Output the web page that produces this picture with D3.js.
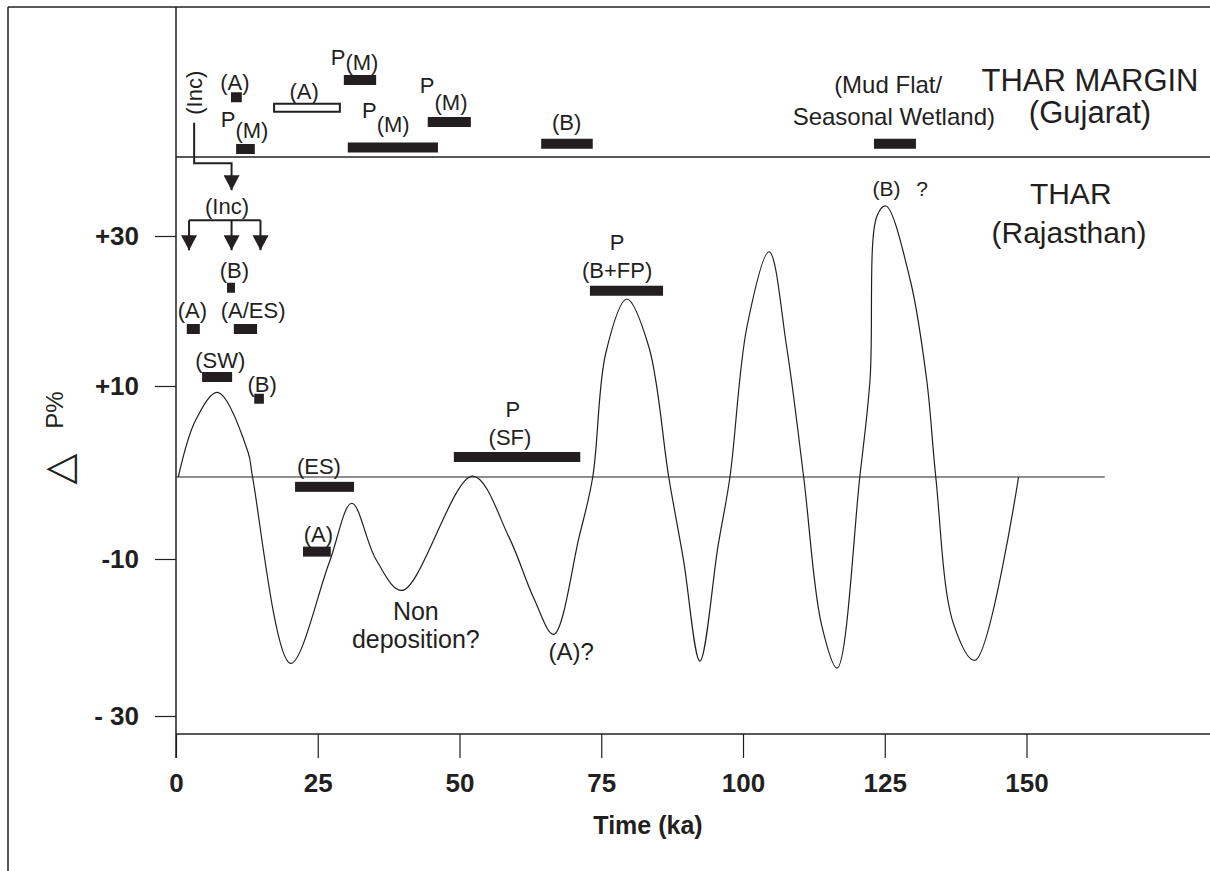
<!DOCTYPE html>
<html>
<head>
<meta charset="utf-8">
<script src="https://cdn.jsdelivr.net/npm/d3@7"></script>
<style>
  html, body { margin: 0; padding: 0; background: #fff; }
  svg { display: block; }
  text { font-family: "Liberation Sans", Arial, Helvetica, sans-serif; fill: #231f20; }
</style>
</head>
<body>
<svg id="chart" width="1210" height="871"></svg>
<script>
// ---------------- DATA ----------------
const timeTicks = [0, 25, 50, 75, 100, 125, 150];
const pTicks = [30, 10, -10, -30];
const pTickLabels = ["+30", "+10", "-10", "- 30"];

// Precipitation anomaly curve (Time ka, delta P %)
const curveTime = [0.4, 3.5, 7.35, 12.7, 13.5, 20.2, 27.0, 31.0, 35.3, 39.9, 52.3, 58.7, 63.1, 66.6, 71.1, 73.5,
  75.8, 79.5, 83.4, 86.9, 89.5, 92.4, 95.6, 97.7, 100.7, 104.6, 107.7, 110.7, 113.8, 116.6, 120.6, 122.4,
  123.6, 125.2, 129.5, 132.4, 134.0, 137.1, 140.9, 148.6];
const curveP = [0, 6.3, 9.3, 2.75, 0, -23.3, -10.5, -3.2, -10.1, -14.0, 0.1, -7.3, -15.0, -19.6, -7.3, 0,
  14.4, 21.6, 15.2, 0, -10.1, -23.0, -8.4, 0, 17.9, 27.9, 15.2, 0, -18.2, -23.9, 0, 10.8,
  32.6, 34.0, 24.1, 10.8, 0, -18.2, -22.9, 0];

// Deposit bars: [start ka, end ka, level]
const marginBars = [[9.7, 11.6, 48.5], [10.6, 13.9, 41.6], [29.6, 35.3, 50.8], [30.3, 46.2, 41.8],
  [44.4, 52.0, 45.2], [64.4, 73.5, 42.3], [123.1, 130.5, 42.3]];
const marginOpenBars = [[17.3, 28.9, 47.1]];
const tharBars = [[9.0, 10.4, 23.1], [1.9, 4.2, 17.6], [10.2, 14.3, 17.6], [4.6, 9.9, 11.2],
  [13.8, 15.5, 8.6], [21.0, 31.4, -1.2], [22.4, 27.3, -9.1], [49.0, 71.3, 2.2], [73.0, 85.9, 22.7]];

// Labels: [text, time ka, level, font size]
const marginLabels = [["(A)", 10.4, 49.5, 22], ["(A)", 22.6, 48.3, 22], ["(B)", 68.9, 44.1, 22],
  ["(Mud Flat/", 125.6, 49.1, 24], ["Seasonal Wetland)", 126.6, 44.8, 24],
  ["THAR MARGIN", 161.2, 49.3, 31], ["(Gujarat)", 161.2, 45.1, 31]];
// P(M) labels: [start ka, level of P baseline, (M) shift x px, (M) shift y px]
const pmLabels = [[7.9, 44.5, 0, 11], [27.3, 52.8, 0, 5], [32.8, 45.7, 0, 14], [43.0, 49.1, 0, 17]];
const tharLabels = [["(Inc)", 9.0, 32.9, 22], ["(B)", 10.3, 24.4, 22], ["(A)", 2.9, 19.1, 22],
  ["(A/ES)", 13.6, 19.1, 22], ["(SW)", 7.8, 12.4, 22], ["(B)", 15.2, 9.3, 22],
  ["(ES)", 25.2, 0.33, 22], ["(A)", 25.1, -7.9, 22], ["P", 59.4, 6.6, 22], ["(SF)", 58.9, 3.5, 22],
  ["Non", 42.3, -17.8, 25], ["deposition?", 42.3, -21.3, 25], ["(A)?", 69.7, -22.9, 24],
  ["P", 77.8, 28.1, 22], ["(B+FP)", 77.8, 24.4, 22], ["(B)", 125.3, 35.3, 21], ["?", 131.6, 35.3, 21],
  ["THAR", 157.8, 34.3, 30], ["(Rajasthan)", 157.5, 29.1, 30]];
const incLabel = ["(Inc)", 3.35, 49.1, 22];

// Incision arrows: polylines [time, level]
const incConnector = [[3.2, 45.1], [3.2, 39.7], [9.8, 39.7], [9.8, 36.1]];
const incBracket = [[2.3, 32.1], [14.9, 32.1]];
const incArrows = [[2.3, 32.1, 28.1], [9.8, 32.1, 28.1], [14.9, 32.1, 28.1]];

// ---------------- CHART ----------------
const W = 1210, H = 871;
const ink = "#231f20";
const svg = d3.select("#chart");

const x = d3.scaleLinear().domain([0, 150]).range([176, 1026.5]);
const y = d3.scaleLinear().domain([-30, -10, 0, 10, 30]).range([716, 559, 477, 386, 236]);

const defs = svg.append("defs");
defs.append("marker").attr("id", "arrow")
  .attr("viewBox", "0 0 15 16").attr("refX", 15).attr("refY", 8)
  .attr("markerWidth", 15).attr("markerHeight", 16)
  .attr("markerUnits", "userSpaceOnUse").attr("orient", "auto")
  .append("path").attr("d", "M0,0 L15,8 L0,16 Z").attr("fill", ink);

// frame
svg.append("line").attr("x1", 8).attr("x2", W).attr("y1", 7).attr("y2", 7)
  .attr("stroke", ink).attr("stroke-width", 1.5);
svg.append("line").attr("x1", 8).attr("x2", 8).attr("y1", 7).attr("y2", H)
  .attr("stroke", ink).attr("stroke-width", 1.5);

// panel divider
svg.append("line").attr("x1", x(0)).attr("x2", W).attr("y1", 157).attr("y2", 157)
  .attr("stroke", ink).attr("stroke-width", 1.5);

// zero line
svg.append("line").attr("x1", x(0)).attr("x2", x(163.8)).attr("y1", y(0)).attr("y2", y(0))
  .attr("stroke", ink).attr("stroke-width", 1.2);

// y axis
const yAxis = d3.axisLeft(y).tickValues(pTicks).tickSize(21).tickPadding(16)
  .tickFormat((d, i) => pTickLabels[i]);
const gy = svg.append("g").attr("transform", `translate(${x(0)},0)`).call(yAxis);
gy.select(".domain").remove();
gy.selectAll(".tick line").attr("stroke", ink).attr("stroke-width", 1.2);
gy.selectAll(".tick text").style("font-size", "26px").style("font-weight", "bold").attr("fill", ink);
svg.append("line").attr("x1", x(0)).attr("x2", x(0)).attr("y1", 7).attr("y2", 758)
  .attr("stroke", ink).attr("stroke-width", 1.5);

// x axis
const xAxis = d3.axisBottom(x).tickValues(timeTicks).tickSize(24).tickPadding(16)
  .tickFormat(d3.format("d"));
const gx = svg.append("g").attr("transform", "translate(0,734)").call(xAxis);
gx.select(".domain").remove();
gx.selectAll(".tick line").attr("stroke", ink).attr("stroke-width", 1.2);
gx.selectAll(".tick text").style("font-size", "26px").style("font-weight", "bold").attr("fill", ink);
svg.append("line").attr("x1", x(0)).attr("x2", W).attr("y1", 734).attr("y2", 734)
  .attr("stroke", ink).attr("stroke-width", 1.5);

svg.append("text").attr("x", 648).attr("y", 834).attr("text-anchor", "middle")
  .style("font-size", "25px").style("font-weight", "bold").text("Time (ka)");

// y axis title (rotated)
svg.append("text").attr("transform", "translate(72,469) rotate(-90)")
  .attr("text-anchor", "middle").style("font-size", "40px")
  .style("font-family", "'DejaVu Sans', sans-serif").text("△");
svg.append("text").attr("transform", "translate(63,410) rotate(-90)")
  .attr("text-anchor", "middle").style("font-size", "24px").text("P%");

// curve
const line = d3.line().x(d => x(d[0])).y(d => y(d[1])).curve(d3.curveCatmullRom.alpha(0.5));
svg.append("path").datum(curveTime.map((t, i) => [t, curveP[i]]))
  .attr("d", line).attr("fill", "none").attr("stroke", ink).attr("stroke-width", 1.2);

// bars
const barH = 10;
svg.append("g").selectAll("rect").data(marginBars.concat(tharBars)).join("rect")
  .attr("x", d => x(d[0])).attr("width", d => x(d[1]) - x(d[0]))
  .attr("y", d => y(d[2]) - barH / 2).attr("height", barH).attr("fill", ink);
svg.append("g").selectAll("rect").data(marginOpenBars).join("rect")
  .attr("x", d => x(d[0])).attr("width", d => x(d[1]) - x(d[0]))
  .attr("y", d => y(d[2]) - barH / 2 + 1).attr("height", barH - 2)
  .attr("fill", "#fff").attr("stroke", ink).attr("stroke-width", 2);

// labels
svg.append("g").selectAll("text").data(marginLabels.concat(tharLabels)).join("text")
  .attr("x", d => x(d[1])).attr("y", d => y(d[2])).attr("text-anchor", "middle")
  .style("font-size", d => d[3] + "px").text(d => d[0]);
const pm = svg.append("g").selectAll("text").data(pmLabels).join("text")
  .attr("x", d => x(d[0])).attr("y", d => y(d[1])).style("font-size", "22px");
pm.append("tspan").text("P");
pm.append("tspan").attr("dx", d => d[2]).attr("dy", d => d[3]).text("(M)");
svg.append("text").attr("transform", `translate(${x(incLabel[1]) + 7},${y(incLabel[2])}) rotate(-90)`)
  .attr("text-anchor", "middle").style("font-size", incLabel[3] + "px").text(incLabel[0]);

// incision arrows
const pl = d3.line().x(d => x(d[0])).y(d => y(d[1]));
svg.append("path").attr("d", pl(incConnector)).attr("fill", "none")
  .attr("stroke", ink).attr("stroke-width", 2).attr("marker-end", "url(#arrow)");
svg.append("path").attr("d", pl(incBracket)).attr("fill", "none")
  .attr("stroke", ink).attr("stroke-width", 2);
svg.append("g").selectAll("path").data(incArrows).join("path")
  .attr("d", d => pl([[d[0], d[1]], [d[0], d[2]]])).attr("fill", "none")
  .attr("stroke", ink).attr("stroke-width", 2).attr("marker-end", "url(#arrow)");
</script>
</body>
</html>
